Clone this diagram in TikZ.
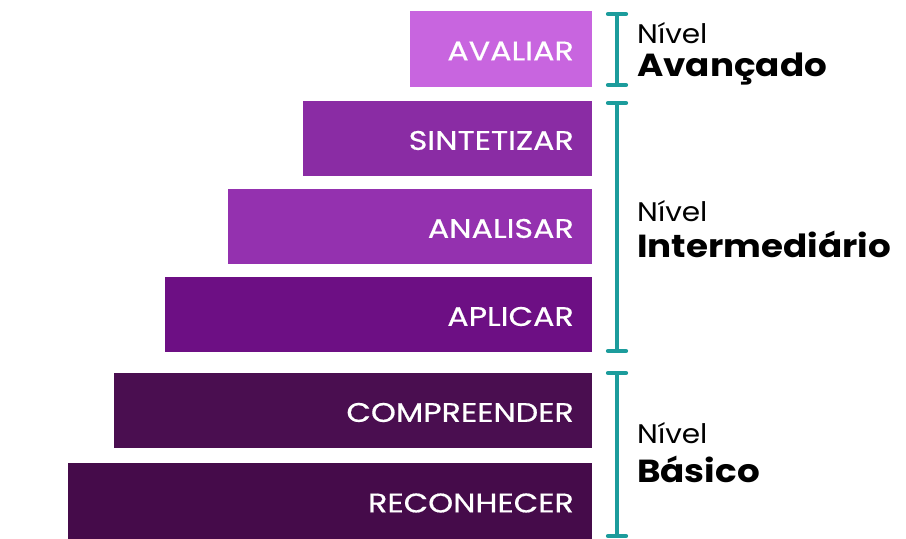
\documentclass[tikz,border=0pt]{standalone}
\usepackage{fontspec}
\setmainfont{Poppins}
\newfontfamily\lblfont[FakeStretch=1.18, FakeBold=0.6]{Poppins}
\newfontfamily\lvlfont[FakeStretch=1.1]{Poppins}
\newfontfamily\lvlbold[FakeStretch=1.12]{Poppins Bold}
\definecolor{cAval}{HTML}{C865DF}
\definecolor{cSint}{HTML}{8A2CA4}
\definecolor{cAnal}{HTML}{9431AF}
\definecolor{cApli}{HTML}{6D0F84}
\definecolor{cComp}{HTML}{4A0E50}
\definecolor{cReco}{HTML}{450B4A}
\definecolor{cTeal}{HTML}{1C9C9C}
\tikzset{
  bar/.style={draw=none, minimum height=76bp, anchor=north east, inner sep=0pt, outer sep=0pt},
  lbl/.style={anchor=east, inner sep=0pt, text=white, font=\lblfont\fontsize{27}{30}\selectfont},
  brk/.style={draw=cTeal, line width=4.2bp},
  lvl/.style={anchor=base west, inner sep=0pt, font=\lvlfont\fontsize{27}{30}\selectfont},
  lvlb/.style={anchor=base west, inner sep=0pt, font=\lvlbold\fontsize{32}{35}\selectfont},
}
\begin{document}
\begin{tikzpicture}[x=1bp,y=-1bp]
\useasboundingbox (0,0) rectangle (906,539);
% bars
\node[bar, fill=cAval, minimum width=182bp] (aval) at (592,11) {};
\node[bar, fill=cSint, minimum width=289bp, minimum height=75bp] (sint) at (592,101) {};
\node[bar, fill=cAnal, minimum width=364bp, minimum height=75bp] (anal) at (592,189) {};
\node[bar, fill=cApli, minimum width=427bp, minimum height=75bp] (apli) at (592,277) {};
\node[bar, fill=cComp, minimum width=478bp, minimum height=75bp] (comp) at (592,373) {};
\node[bar, fill=cReco, minimum width=524bp] (reco) at (592,463) {};
% labels
\node[lbl] (tAval) at ([xshift=-18bp,yshift=-2bp]aval.east) {AVALIAR};
\node[lbl] (tSint) at ([xshift=-18bp,yshift=-2bp]sint.east) {SINTETIZAR};
\node[lbl] (tAnal) at ([xshift=-18bp,yshift=-2bp]anal.east) {ANALISAR};
\node[lbl] (tApli) at ([xshift=-18bp,yshift=-2bp]apli.east) {APLICAR};
\node[lbl] (tComp) at ([xshift=-18bp,yshift=-2bp]comp.east) {COMPREENDER};
\node[lbl] (tReco) at ([xshift=-18bp,yshift=-2bp]reco.east) {RECONHECER};
% brackets
\coordinate (b1t) at (617,14);  \coordinate (b1b) at (617,85);
\coordinate (b2t) at (617,103); \coordinate (b2b) at (617,351);
\coordinate (b3t) at (617,373); \coordinate (b3b) at (617,536);
\foreach \t/\b in {b1t/b1b,b2t/b2b,b3t/b3b}{
  \draw[brk] (\t) -- (\b);
  \draw[brk, line cap=round] ([xshift=-9bp]\t) -- ([xshift=9bp]\t);
  \draw[brk, line cap=round] ([xshift=-9bp]\b) -- ([xshift=9bp]\b);
}
% level texts
\node[lvl]  (n1) at (637,44)  {Nível};
\node[lvlb] (l1) at (637,77)  {Avançado};
\node[lvl]  (n2) at (637,222) {Nível};
\node[lvlb] (l2) at (637,258) {Intermediário};
\node[lvl]  (n3) at (637,443) {Nível};
\node[lvlb] (l3) at (637,482) {Básico};
\end{tikzpicture}
\end{document}
